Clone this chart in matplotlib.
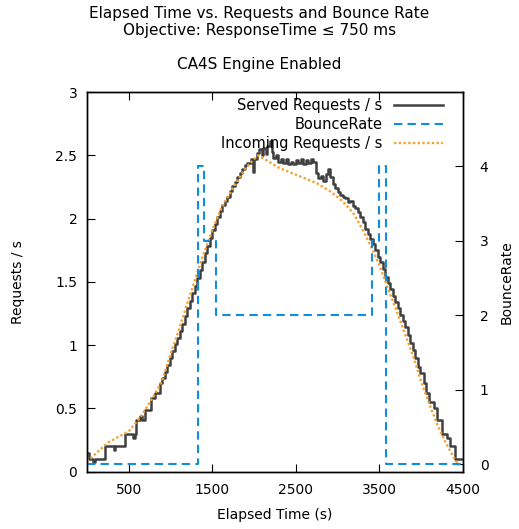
#!/usr/bin/env python3
"""Elapsed time vs. served/incoming requests and bounce rate (CA4S engine enabled)."""

import matplotlib

matplotlib.use("Agg")

import matplotlib.pyplot as plt
from matplotlib.ticker import FormatStrFormatter

# served requests per second: step changes (time in s, requests / s)
served_t = [
    0, 20, 70, 90, 217, 320, 340, 460, 550, 570, 588, 640, 660, 700, 768, 808,
    868, 900, 930, 960, 990, 1020, 1050, 1080, 1110, 1140, 1170, 1200, 1230,
    1260, 1290, 1320, 1350, 1380, 1410, 1440, 1470, 1500, 1530, 1560, 1590,
    1620, 1650, 1680, 1710, 1740, 1770, 1800, 1830, 1860, 1890, 1920, 1960,
    1985, 2000, 2040, 2060, 2090, 2110, 2140, 2160, 2190, 2210, 2230, 2260,
    2290, 2320, 2350, 2380, 2410, 2440, 2470, 2500, 2530, 2560, 2590, 2620,
    2650, 2680, 2710, 2740, 2770, 2800, 2830, 2860, 2890, 2910, 2940, 2970,
    3000, 3030, 3060, 3090, 3120, 3150, 3180, 3210, 3240, 3270, 3300, 3330,
    3360, 3390, 3420, 3450, 3480, 3510, 3540, 3570, 3600, 3630, 3660, 3690,
    3720, 3750, 3780, 3810, 3840, 3870, 3900, 3930, 3960, 3990, 4030, 4060,
    4090, 4150, 4190, 4250, 4310, 4350, 4410, 4500,
]
served_v = [
    0.15, 0.10, 0.08, 0.10, 0.20, 0.17, 0.20, 0.30, 0.27, 0.30, 0.41, 0.44,
    0.41, 0.49, 0.58, 0.62, 0.70, 0.74, 0.79, 0.84, 0.90, 0.95, 1.01, 1.06,
    1.11, 1.17, 1.23, 1.29, 1.35, 1.41, 1.47, 1.53, 1.59, 1.66, 1.73, 1.78,
    1.85, 1.91, 1.96, 2.01, 2.06, 2.11, 2.14, 2.17, 2.22, 2.26, 2.29, 2.33,
    2.36, 2.39, 2.42, 2.44, 2.47, 2.37, 2.47, 2.52, 2.55, 2.50, 2.56, 2.51,
    2.57, 2.61, 2.53, 2.48, 2.50, 2.45, 2.47, 2.44, 2.47, 2.43, 2.45, 2.43,
    2.46, 2.44, 2.47, 2.43, 2.46, 2.44, 2.47, 2.45, 2.36, 2.32, 2.34, 2.30,
    2.35, 2.39, 2.33, 2.27, 2.24, 2.21, 2.19, 2.17, 2.16, 2.13, 2.14, 2.10,
    2.08, 2.05, 2.01, 1.97, 1.92, 1.88, 1.84, 1.80, 1.75, 1.70, 1.66, 1.60,
    1.54, 1.49, 1.44, 1.39, 1.34, 1.29, 1.24, 1.19, 1.14, 1.08, 1.02, 0.96,
    0.90, 0.83, 0.78, 0.70, 0.62, 0.55, 0.50, 0.41, 0.30, 0.27, 0.20, 0.10,
    0.10,
]

# incoming requests per second (load profile)
incoming_t = [
    0, 250, 500, 650, 800, 900, 1000, 1100, 1200, 1300, 1400, 1500, 1600,
    1700, 1800, 1900, 2000, 2050, 2150, 2300, 2450, 2600, 2750, 2900, 3000,
    3100, 3200, 3300, 3400, 3500, 3600, 3700, 3800, 3900, 4000, 4100, 4200,
    4300, 4400, 4450,
]
incoming_v = [
    0.08, 0.23, 0.32, 0.44, 0.60, 0.72, 0.93, 1.12, 1.33, 1.53, 1.73, 1.91,
    2.07, 2.19, 2.30, 2.40, 2.47, 2.50, 2.46, 2.40, 2.36, 2.32, 2.28, 2.22,
    2.17, 2.11, 2.03, 1.91, 1.78, 1.63, 1.45, 1.28, 1.10, 0.92, 0.71, 0.53,
    0.36, 0.22, 0.10, 0.05,
]

# bounce rate (right axis), piecewise constant
bounce_t = [0, 1330, 1400, 1540, 3405, 3500, 3580, 4500]
bounce_v = [0, 4, 3, 2, 3, 4, 0, 0]

xticks = [500, 1500, 2500, 3500, 4500]
left_ticks = [0, 0.5, 1, 1.5, 2, 2.5, 3]
right_ticks = [0, 1, 2, 3, 4]

GRAY = "#404040"
BLUE = "#108ce0"
ORANGE = "#f8a030"

plt.rcParams["font.family"] = ["DejaVu Sans"]
plt.rcParams["font.size"] = 10

fig = plt.figure(figsize=(5.19, 5.29), dpi=100)
ax = fig.add_axes([0.1676, 0.1083, 0.7245, 0.7177])
rax = ax.twinx()

served_line, = ax.plot(served_t, served_v, drawstyle="steps-post", color=GRAY,
                       linewidth=1.8, label="Served Requests / s", zorder=3)
incoming_line, = ax.plot(incoming_t, incoming_v, color=ORANGE, linewidth=1.7,
                         linestyle=(0, (1.0, 1.0)), label="Incoming Requests / s", zorder=4)
bounce_line, = rax.plot(bounce_t, bounce_v, drawstyle="steps-post", color=BLUE,
                        linewidth=1.5, linestyle=(0, (4, 2.5)), label="BounceRate")

ax.set_xlim(0, 4500)
ax.set_ylim(0, 3)
rax.set_ylim(-0.1, 5.0)

ax.set_xticks(xticks)
ax.set_yticks(left_ticks)
ax.yaxis.set_major_formatter(FormatStrFormatter("%g"))
rax.set_yticks(right_ticks)

ax.tick_params(axis="x", direction="in", top=True, length=6, width=0.8, pad=8)
ax.tick_params(axis="y", direction="in", right=False, length=6, width=0.8, pad=7)
rax.tick_params(axis="y", direction="in", length=6, width=0.8, pad=12)
for spine in list(ax.spines.values()) + list(rax.spines.values()):
    spine.set_linewidth(1.0)

ax.set_xlabel("Elapsed Time (s)", labelpad=8)
ax.set_ylabel("Requests / s", labelpad=22)
rax.set_ylabel("BounceRate", labelpad=8)

rax.legend(
    handles=[served_line, bounce_line, incoming_line],
    loc="upper right",
    frameon=False,
    markerfirst=False,
    handlelength=3.4,
    handletextpad=0.8,
    labelspacing=0.3,
    borderaxespad=0.3,
    bbox_to_anchor=(0.975, 1.012),
    fontsize=10.5,
)

fig.text(0.5, 0.989, "Elapsed Time vs. Requests and Bounce Rate\nObjective: ResponseTime \u2264 750 ms",
         ha="center", va="top", fontsize=11, linespacing=1.15)
fig.text(0.5, 0.879, "CA4S Engine Enabled", ha="center", va="center", fontsize=11)

fig.savefig("out.png", dpi=100)
plt.close(fig)
